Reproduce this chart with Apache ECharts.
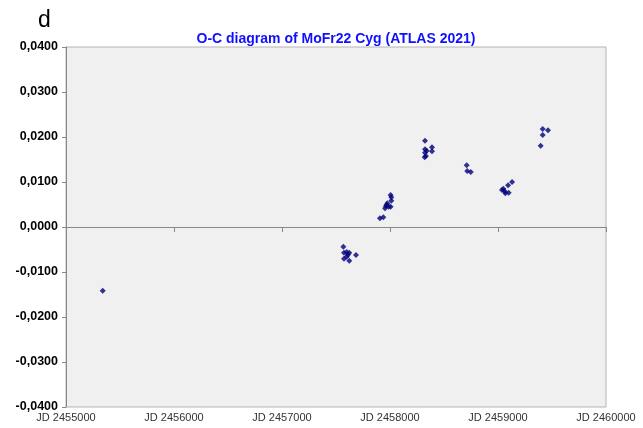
<!DOCTYPE html>
<html>
<head>
<meta charset="utf-8">
<script src="https://cdn.jsdelivr.net/npm/echarts@6/dist/echarts.min.js"></script>
<style>
html,body{margin:0;padding:0;background:#fff;}
#c{width:643px;height:428px;}
</style>
</head>
<body>
<div id="c"></div>
<script>
const jd = [2455340,
  2457568,2457574,2457599,2457623,2457611,2457574,2457599,2457623,2457685,
  2457907,2457938,2458006,2458012,2458012,2457975,2457963,2457988,2458006,2457954,2457969,
  2458324,2458324,2458340,2458324,2458389,2458389,2458333,2458321,
  2458710,2458715,2458748,
  2459130,2459093,2459049,2459037,2459062,2459099,2459068,
  2459414,2459463,2459414,2459395];
const oc = [-0.01415,
  -0.00438,-0.00571,-0.00556,-0.00571,-0.00616,-0.00704,-0.00660,-0.00749,-0.00622,
  0.00193,0.00216,0.00711,0.00660,0.00584,0.00527,0.00467,0.00451,0.00451,0.00416,0.00489,
  0.01918,0.01727,0.01696,0.01651,0.01771,0.01682,0.01578,0.01549,
  0.01371,0.01244,0.01222,
  0.01000,0.00927,0.00851,0.00822,0.00793,0.00762,0.00749,
  0.02178,0.02149,0.02044,0.01807];
const titleText = 'O-C diagram of MoFr22 Cyg (ATLAS 2021)';
const panelLabel = 'd';
const data = jd.map((x,i)=>[x, oc[i]]);

const chart = echarts.init(document.getElementById('c'), null, {renderer:'canvas'});
chart.setOption({
  animation:false,
  backgroundColor:'#ffffff',
  title:[
    {text:panelLabel, left:33, top:4, textStyle:{fontFamily:'Liberation Sans, Arial', fontSize:23, fontWeight:'normal', color:'#000'}},
    {text:titleText, left:331, textAlign:'center', top:27, textStyle:{fontFamily:'Liberation Sans, Arial', fontSize:14, fontWeight:'bold', color:'#1010ff'}}
  ],
  grid:{left:66, right:37, top:47, bottom:21, show:true, backgroundColor:'#f0f0f0', borderColor:'#b4b4b4', borderWidth:1},
  xAxis:[
    {type:'value', min:2455000, max:2460000, interval:1000, position:'bottom',
     axisLine:{show:false, onZero:false}, axisTick:{show:false}, splitLine:{show:false},
     axisLabel:{margin:5, fontFamily:'Liberation Sans, Arial', fontSize:11, color:'#333',
       formatter:v=>'JD '+v}},
    {type:'value', min:2455000, max:2460000, interval:1000, position:'bottom',
     axisLine:{show:true, onZero:true, lineStyle:{color:'#888', width:1}},
     axisTick:{show:true, length:5, lineStyle:{color:'#888'}},
     axisLabel:{show:false}, splitLine:{show:false}}
  ],
  yAxis:{type:'value', min:-0.04, max:0.04, interval:0.01,
    axisLine:{show:true, onZero:false, lineStyle:{color:'#888', width:1}},
    axisTick:{show:true, length:4, lineStyle:{color:'#888'}},
    splitLine:{show:false},
    axisLabel:{margin:8, fontFamily:'Liberation Sans, Arial', fontSize:12.5, fontWeight:'bold', color:'#000',
      formatter:v=>v.toFixed(4).replace('.',',')}},
  series:[{type:'scatter', xAxisIndex:0, data:data, symbol:'diamond', symbolSize:6,
    itemStyle:{color:'#00007a'}}]
});
</script>
</body>
</html>
